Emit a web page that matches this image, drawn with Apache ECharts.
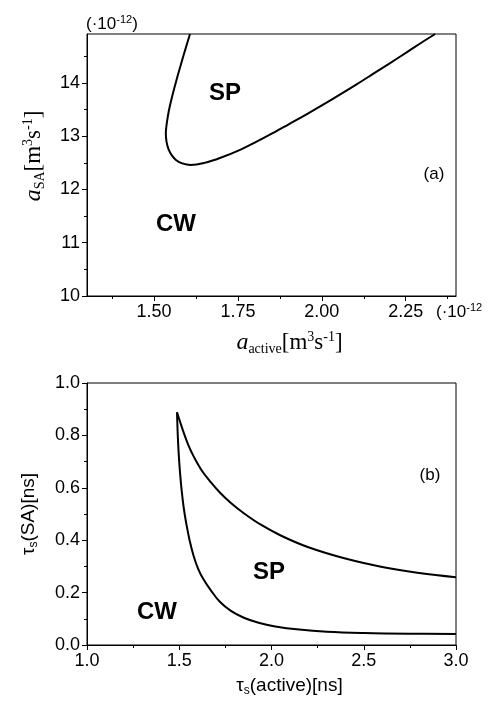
<!DOCTYPE html>
<html><head><meta charset="utf-8">
<script src="https://cdn.jsdelivr.net/npm/echarts@6/dist/echarts.min.js"></script>
<style>html,body{margin:0;padding:0;background:#fff}#c{width:488px;height:704px}</style>
</head><body><div id="c"></div>
<script>
// Panel (a): boundary between CW and SP regions (units of 1e-12 m^3 s^-1)
const topCurveX = [1.607, 1.594, 1.581, 1.567, 1.554, 1.544, 1.538, 1.535, 1.537, 1.543, 1.553, 1.566, 1.584, 1.609, 1.650, 1.700, 1.758, 1.800, 1.857, 1.900, 1.957, 2.000, 2.056, 2.100, 2.155, 2.200, 2.254, 2.300, 2.338];
const topCurveY = [14.92, 14.65, 14.37, 14.06, 13.75, 13.48, 13.25, 13.05, 12.90, 12.76, 12.64, 12.55, 12.49, 12.462, 12.50, 12.60, 12.75, 12.88, 13.07, 13.22, 13.42, 13.58, 13.79, 13.96, 14.18, 14.36, 14.58, 14.77, 14.92];
const topXTicks = [1.50, 1.75, 2.00, 2.25];
const topXMinor = [1.375, 1.625, 1.875, 2.125, 2.375];
const topYTicks = [10, 11, 12, 13, 14];
const topYMinor = [10.5, 11.5, 12.5, 13.5, 14.5];

// Panel (b): two branches meeting at the cusp
const lowerX = [1.488, 1.489, 1.492, 1.497, 1.504, 1.513, 1.525, 1.539, 1.556, 1.578, 1.603, 1.632, 1.675, 1.720, 1.780, 1.850, 1.930, 2.020, 2.150, 2.300, 2.500, 2.750, 3.000];
const lowerY = [0.888, 0.860, 0.800, 0.730, 0.660, 0.590, 0.520, 0.460, 0.400, 0.340, 0.290, 0.250, 0.205, 0.165, 0.130, 0.104, 0.085, 0.071, 0.059, 0.051, 0.046, 0.043, 0.042];
const upperX = [1.488, 1.497, 1.510, 1.527, 1.550, 1.578, 1.620, 1.668, 1.720, 1.780, 1.850, 1.940, 2.050, 2.200, 2.400, 2.600, 2.800, 3.000];
const upperY = [0.888, 0.868, 0.840, 0.805, 0.762, 0.720, 0.668, 0.624, 0.582, 0.542, 0.503, 0.460, 0.418, 0.373, 0.330, 0.298, 0.275, 0.259];

const pairs = (xs, ys) => xs.map((x, i) => [x, ys[i]]);
const SANS = 'Liberation Sans';
const SERIF = 'Liberation Serif';
const lbl = { color: '#000', fontFamily: SANS, fontSize: 18 };
const axLine = { lineStyle: { color: '#000', width: 1 } };

const serifRich = {
  a: { fontFamily: SERIF, fontStyle: 'italic', fontSize: 24, color: '#000' },
  sub: { fontFamily: SERIF, fontSize: 14, color: '#000', padding: [12, 0, 0, 0] },
  b: { fontFamily: SERIF, fontSize: 23, color: '#000' },
  sup: { fontFamily: SERIF, fontSize: 14, color: '#000', padding: [0, 0, 12, 0] }
};
const sansRich = {
  t: { fontFamily: SANS, fontSize: 19, color: '#000' },
  sub: { fontFamily: SANS, fontSize: 12, color: '#000', padding: [10, 0, 0, 0] },
  n: { fontFamily: SANS, fontSize: 19, color: '#000' }
};

const chart = echarts.init(document.getElementById('c'), null, { renderer: 'canvas' });
chart.setOption({
  animation: false,
  backgroundColor: '#fff',
  grid: [
    { left: 87, top: 34, width: 369, height: 262, show: true, borderColor: '#000', borderWidth: 1 },
    { left: 87, top: 383, width: 369, height: 262, show: true, borderColor: '#000', borderWidth: 1 }
  ],
  xAxis: [
    { gridIndex: 0, type: 'value', position: 'bottom', min: 1.30, max: 2.40,
      axisLine: axLine, splitLine: { show: false },
      axisTick: { customValues: topXTicks, length: 5, lineStyle: { color: '#000' } },
      axisLabel: Object.assign({ customValues: topXTicks, margin: 7, formatter: v => v.toFixed(2) }, lbl),
      name: '{a|a}{sub|active}{b|[m}{sup|3}{b|s}{sup|-1}{b|]}', nameLocation: 'middle', nameGap: 34,
      nameTextStyle: { rich: serifRich, padding: [0, 0, 0, 36] } },
    { gridIndex: 0, type: 'value', position: 'bottom', min: 1.30, max: 2.40,
      axisLine: { show: false }, splitLine: { show: false }, axisLabel: { show: false },
      axisTick: { customValues: topXMinor, length: 3, lineStyle: { color: '#000' } } },
    { gridIndex: 1, type: 'value', position: 'bottom', min: 1.0, max: 3.0, interval: 0.5,
      axisLine: axLine, splitLine: { show: false },
      axisTick: { length: 5, lineStyle: { color: '#000' } },
      minorTick: { show: true, splitNumber: 2, length: 3, lineStyle: { color: '#000' } },
      axisLabel: Object.assign({ margin: 7, formatter: v => v.toFixed(1) }, lbl),
      name: '{t|τ}{sub|s}{n|(active)[ns]}', nameLocation: 'middle', nameGap: 30,
      nameTextStyle: { rich: sansRich, padding: [0, 0, 0, 36] } }
  ],
  yAxis: [
    { gridIndex: 0, type: 'value', position: 'left', min: 10, max: 14.92,
      axisLine: axLine, splitLine: { show: false },
      axisTick: { customValues: topYTicks, length: 5, lineStyle: { color: '#000' } },
      axisLabel: Object.assign({ customValues: topYTicks, margin: 7 }, lbl),
      name: '{a|a}{sub|SA}{b|[m}{sup|3}{b|s}{sup|-1}{b|]}', nameLocation: 'middle', nameRotate: 90, nameGap: 40,
      nameTextStyle: { rich: serifRich, padding: [0, 0, 0, 18] } },
    { gridIndex: 0, type: 'value', position: 'left', min: 10, max: 14.92,
      axisLine: { show: false }, splitLine: { show: false }, axisLabel: { show: false },
      axisTick: { customValues: topYMinor, length: 3, lineStyle: { color: '#000' } } },
    { gridIndex: 1, type: 'value', position: 'left', min: 0, max: 1, interval: 0.2,
      axisLine: axLine, splitLine: { show: false },
      axisTick: { length: 5, lineStyle: { color: '#000' } },
      minorTick: { show: true, splitNumber: 2, length: 3, lineStyle: { color: '#000' } },
      axisLabel: Object.assign({ margin: 7, formatter: v => v.toFixed(1) }, lbl),
      name: '{t|τ}{sub|s}{n|(SA)[ns]}', nameLocation: 'middle', nameRotate: 90, nameGap: 47,
      nameTextStyle: { rich: sansRich } }
  ],
  series: [
    { type: 'line', xAxisIndex: 0, yAxisIndex: 0, data: pairs(topCurveX, topCurveY), smooth: 0.4,
      showSymbol: false, lineStyle: { color: '#000', width: 2 } },
    { type: 'line', xAxisIndex: 2, yAxisIndex: 2, data: pairs(lowerX, lowerY), smooth: 0.4,
      showSymbol: false, lineStyle: { color: '#000', width: 2 } },
    { type: 'line', xAxisIndex: 2, yAxisIndex: 2, data: pairs(upperX, upperY), smooth: 0.4,
      showSymbol: false, lineStyle: { color: '#000', width: 2 } }
  ],
  graphic: [
    { type: 'text', left: 86, top: 14, style: { text: '{n|(·10}{s|-12}{n|)}', rich: {
        n: { fontFamily: SANS, fontSize: 17, color: '#000' },
        s: { fontFamily: SANS, fontSize: 11, color: '#000', padding: [0, 0, 9, 0] } } } },
    { type: 'text', left: 436, top: 302, style: { text: '{n|(·10}{s|-12}', rich: {
        n: { fontFamily: SANS, fontSize: 17, color: '#000' },
        s: { fontFamily: SANS, fontSize: 11, color: '#000', padding: [0, 0, 9, 0] } } } },
    { type: 'text', x: 225, y: 93, style: { text: 'SP', font: 'bold 24px "Liberation Sans"', fill: '#000', align: 'center', verticalAlign: 'middle' } },
    { type: 'text', x: 176, y: 224, style: { text: 'CW', font: 'bold 24px "Liberation Sans"', fill: '#000', align: 'center', verticalAlign: 'middle' } },
    { type: 'text', x: 434, y: 174, style: { text: '(a)', font: '17px "Liberation Sans"', fill: '#000', align: 'center', verticalAlign: 'middle' } },
    { type: 'text', x: 269, y: 572, style: { text: 'SP', font: 'bold 24px "Liberation Sans"', fill: '#000', align: 'center', verticalAlign: 'middle' } },
    { type: 'text', x: 157, y: 612, style: { text: 'CW', font: 'bold 24px "Liberation Sans"', fill: '#000', align: 'center', verticalAlign: 'middle' } },
    { type: 'text', x: 430, y: 475, style: { text: '(b)', font: '17px "Liberation Sans"', fill: '#000', align: 'center', verticalAlign: 'middle' } }
  ]
});
</script></body></html>
